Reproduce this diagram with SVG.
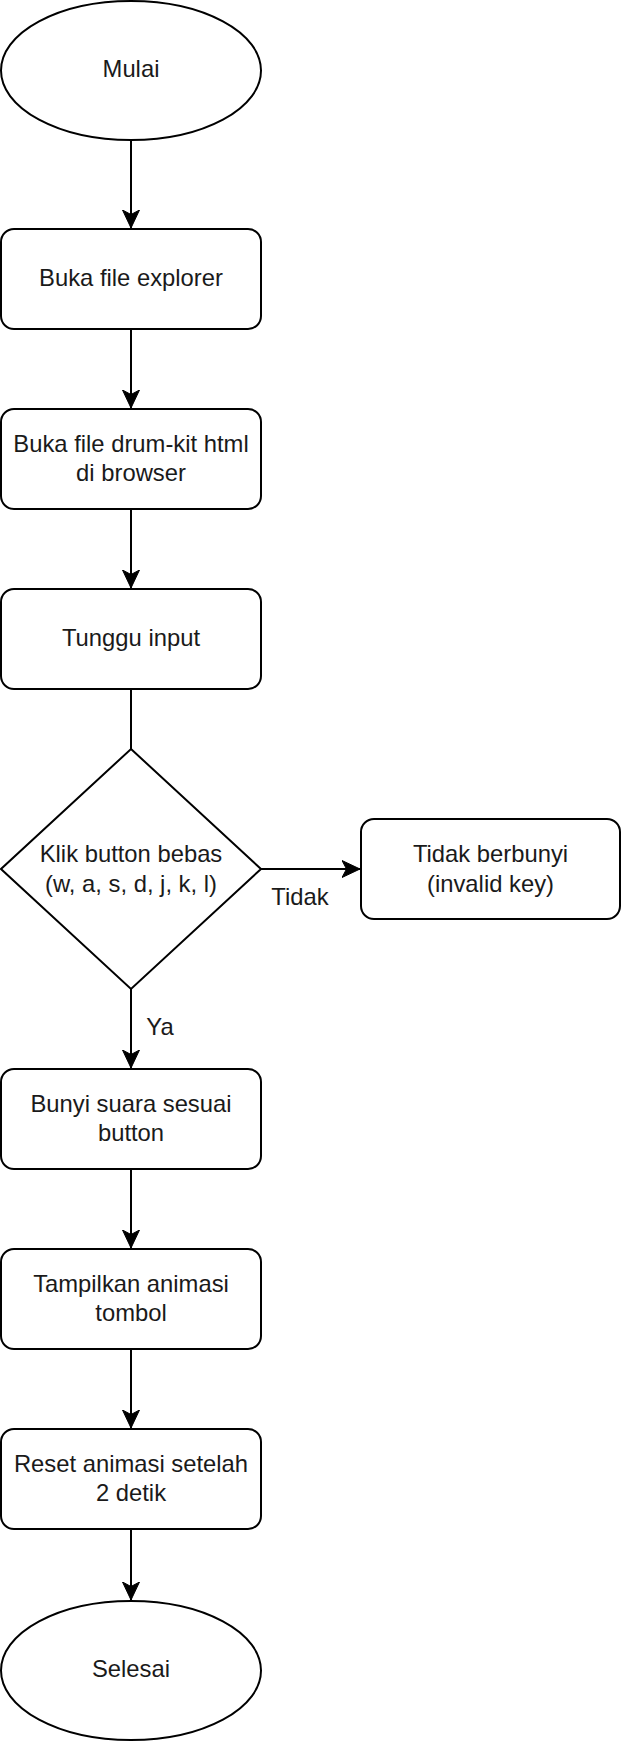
<svg xmlns="http://www.w3.org/2000/svg" width="622" height="1742" viewBox="0 0 622 1742">
<style>
.shape{fill:#ffffff;stroke:#000000;stroke-width:2}
.edge{fill:none;stroke:#000000;stroke-width:2}
text{font-family:"Liberation Sans",Arial,sans-serif;font-size:23.8px;fill:#1a1a1a;text-anchor:middle}
</style>
<defs>
<marker id="arrow" markerUnits="userSpaceOnUse" markerWidth="19" markerHeight="18" refX="18" refY="9" orient="auto" viewBox="0 0 19 18">
<path d="M18,9 L0,0.5 L4.5,9 L0,17.5 Z" fill="#000000" stroke="#000000" stroke-width="1"/>
</marker>
</defs>
<rect width="622" height="1742" fill="#ffffff"/>
<g id="connectors">
<path class="edge" d="M131,140 L131,228" marker-end="url(#arrow)"/>
<path class="edge" d="M131,329 L131,408" marker-end="url(#arrow)"/>
<path class="edge" d="M131,509 L131,588" marker-end="url(#arrow)"/>
<path class="edge" d="M131,689 L131,749"/>
<path class="edge" d="M261,869 L360,869" marker-end="url(#arrow)"/>
<path class="edge" d="M131,989 L131,1068" marker-end="url(#arrow)"/>
<path class="edge" d="M131,1169 L131,1248" marker-end="url(#arrow)"/>
<path class="edge" d="M131,1349 L131,1428" marker-end="url(#arrow)"/>
<path class="edge" d="M131,1529 L131,1600" marker-end="url(#arrow)"/>
<text x="300" y="905">Tidak</text>
<text x="160" y="1035">Ya</text>
</g>
<g id="start">
<ellipse class="shape" cx="131" cy="70.5" rx="130" ry="69.5"/>
<text x="131" y="77">Mulai</text>
</g>
<g id="open-explorer">
<rect class="shape" x="1" y="229" width="260" height="100" rx="13" ry="13"/>
<text x="131" y="286">Buka file explorer</text>
</g>
<g id="open-html">
<rect class="shape" x="1" y="409" width="260" height="100" rx="13" ry="13"/>
<text x="131" y="452">Buka file drum-kit html</text>
<text x="131" y="481">di browser</text>
</g>
<g id="wait-input">
<rect class="shape" x="1" y="589" width="260" height="100" rx="13" ry="13"/>
<text x="131" y="646">Tunggu input</text>
</g>
<g id="decision">
<polygon class="shape" points="131,749 261,869 131,989 1,869"/>
<text x="131" y="862">Klik button bebas</text>
<text x="131" y="892">(w, a, s, d, j, k, l)</text>
</g>
<g id="invalid">
<rect class="shape" x="361" y="819" width="259" height="100" rx="13" ry="13"/>
<text x="490.5" y="862">Tidak berbunyi</text>
<text x="490.5" y="892">(invalid key)</text>
</g>
<g id="play-sound">
<rect class="shape" x="1" y="1069" width="260" height="100" rx="13" ry="13"/>
<text x="131" y="1112">Bunyi suara sesuai</text>
<text x="131" y="1141">button</text>
</g>
<g id="show-animation">
<rect class="shape" x="1" y="1249" width="260" height="100" rx="13" ry="13"/>
<text x="131" y="1292">Tampilkan animasi</text>
<text x="131" y="1321">tombol</text>
</g>
<g id="reset-animation">
<rect class="shape" x="1" y="1429" width="260" height="100" rx="13" ry="13"/>
<text x="131" y="1472">Reset animasi setelah</text>
<text x="131" y="1501">2 detik</text>
</g>
<g id="end">
<ellipse class="shape" cx="131" cy="1670.5" rx="130" ry="69.5"/>
<text x="131" y="1677">Selesai</text>
</g>
</svg>
